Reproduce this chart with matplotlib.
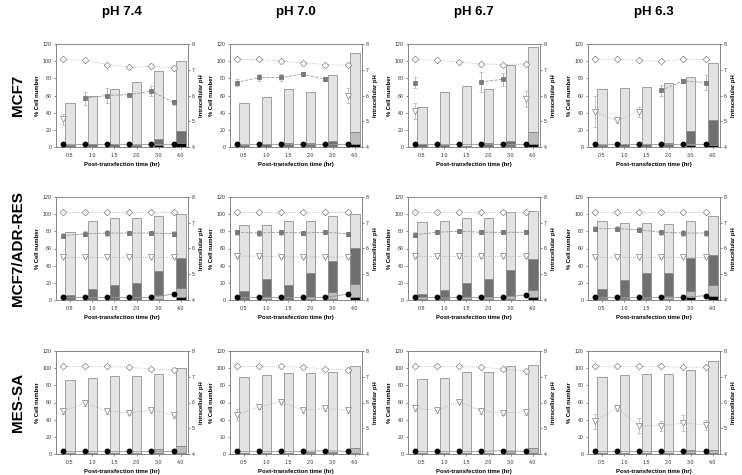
import numpy as np
import matplotlib.pyplot as plt

plt.rcParams['font.family'] = ['Liberation Sans', 'DejaVu Sans']

cells = ["MCF7", "MCF7/ADR-RES", "MES-SA"]
ph_ext = ["pH 7.4", "pH 7.0", "pH 6.7", "pH 6.3"]
times = ["0.5", "1.0", "1.5", "2.0", "3.0", "4.0"]
nan = np.nan

# % cell number: bar totals and stacked parts (rows = cell lines, cols = extracellular pH)
total = [
    [[51, 59, 68, 76, 89, 100], [51, 58, 67, 64, 84, 110], [47, 64, 71, 67, 95, 117], [68, 69, 70, 75, 81, 98]],
    [[79, 92, 95, 95, 98, 100], [87, 87, 92, 92, 98, 100], [91, 92, 95, 96, 103, 104], [92, 90, 90, 89, 92, 98]],
    [[86, 89, 91, 91, 93, 100], [90, 92, 94, 94, 95, 102], [87, 89, 95, 95, 102, 104], [90, 92, 93, 93, 98, 108]],
]
black = [
    [[0, 1, 1, 1, 2, 5], [0, 0, 1, 1, 1, 4], [0, 0, 0, 1, 1, 4], [1, 1, 1, 1, 2, 2]],
    [[1, 1, 1, 1, 1, 3], [1, 1, 1, 1, 1, 3], [1, 1, 1, 1, 1, 3], [1, 1, 1, 1, 3, 5]],
    [[1, 1, 1, 1, 1, 1], [1, 1, 1, 1, 1, 1], [1, 1, 1, 1, 1, 1], [1, 1, 1, 1, 1, 1]],
]
medium = [
    [[0, 0, 0, 0, 0, 0], [0, 0, 0, 0, 0, 14], [0, 0, 0, 0, 0, 13], [0, 0, 0, 0, 0, 0]],
    [[0, 0, 0, 0, 5, 11], [0, 2, 0, 2, 8, 16], [2, 1, 2, 2, 4, 9], [1, 1, 1, 4, 8, 12]],
    [[0, 0, 0, 0, 5, 8], [0, 0, 0, 1, 1, 6], [0, 0, 0, 0, 3, 6], [0, 0, 0, 0, 4, 4]],
]
dark = [
    [[2, 2, 3, 1, 7, 14], [2, 3, 4, 4, 6, 0], [3, 2, 1, 4, 6, 0], [1, 2, 2, 4, 17, 30]],
    [[5, 12, 16, 19, 28, 35], [10, 21, 17, 29, 36, 41], [4, 10, 17, 22, 30, 36], [11, 21, 30, 27, 38, 35]],
    [[0, 0, 0, 0, 0, 0], [0, 0, 0, 0, 0, 0], [0, 0, 0, 0, 0, 0], [0, 0, 0, 0, 0, 0]],
]

# intracellular pH markers
diamond = [
    [[7.4, 7.37, 7.2, 7.1, 7.13, 7.07], [7.4, 7.4, 7.33, 7.27, 7.2, 7.17],
     [7.4, 7.37, 7.3, 7.23, 7.2, 7.23], [7.4, 7.4, 7.37, 7.33, 7.4, 7.4]],
    [[7.43] * 6, [7.43] * 6, [7.43] * 6, [7.43] * 6],
    [[7.4, 7.4, 7.4, 7.37, 7.3, 7.27], [7.4, 7.4, 7.4, 7.37, 7.3, 7.27],
     [7.4, 7.4, 7.4, 7.37, 7.3, 7.23], [7.4, 7.4, 7.4, 7.4, 7.37, 7.37]],
]
square = [
    [[nan, 5.9, 6.0, 6.03, 6.17, 5.73], [6.5, 6.7, 6.7, 6.83, 6.63, nan],
     [6.5, nan, nan, 6.53, 6.63, nan], [nan, nan, nan, 6.2, 6.57, 6.5]],
    [[6.5, 6.57, 6.6, 6.6, 6.6, 6.57], [6.63, 6.6, 6.63, 6.6, 6.63, 6.57],
     [6.53, 6.63, 6.67, 6.63, 6.63, 6.63], [6.77, 6.77, 6.73, 6.63, 6.6, 6.6]],
    [[nan] * 6, [nan] * 6, [nan] * 6, [nan] * 6],
]
square_err = [
    [[0, 0.25, 0.3, 0.05, 0.2, 0.1], [0.15, 0.15, 0.15, 0.08, 0.08, 0],
     [0.2, 0, 0, 0.4, 0.25, 0], [0, 0, 0, 0.2, 0.08, 0.3]],
    [[0.1, 0.1, 0.1, 0.08, 0.08, 0.1], [0.1, 0.1, 0.1, 0.08, 0.08, 0.08],
     [0.1, 0.08, 0.08, 0.08, 0.08, 0.08], [0.1, 0.1, 0.1, 0.1, 0.1, 0.1]],
    [[0] * 6, [0] * 6, [0] * 6, [0] * 6],
]
triangle = [
    [[5.07, nan, nan, nan, nan, nan], [nan, nan, nan, nan, nan, 6.0],
     [5.4, nan, nan, nan, nan, 5.87], [5.37, 5.03, 5.37, nan, nan, nan]],
    [[5.67] * 6, [5.7, 5.7, 5.67, 5.67, 5.67, 5.67], [5.7] * 6, [5.67] * 6],
    [[5.67, 5.97, 5.67, 5.6, 5.7, 5.5], [5.53, 5.83, 6.03, 5.7, 5.77, 5.7],
     [5.77, 5.7, 6.03, 5.67, 5.6, 5.63], [5.27, 5.77, 5.1, 5.1, 5.2, 5.13]],
]
triangle_err = [
    [[0.2, 0, 0, 0, 0, 0], [0, 0, 0, 0, 0, 0.3], [0.3, 0, 0, 0, 0, 0.3], [0.6, 0.1, 0.2, 0, 0, 0]],
    [[0.05] * 6, [0.05] * 6, [0.05] * 6, [0.05] * 6],
    [[0.1, 0.1, 0.1, 0.1, 0.1, 0.1], [0.2, 0.1, 0.1, 0.1, 0.1, 0.1],
     [0.1, 0.1, 0.1, 0.1, 0.1, 0.1], [0.3, 0.1, 0.3, 0.2, 0.3, 0.2]],
]
circle = [
    [[4.1] * 6, [4.1] * 6, [4.1] * 6, [4.1] * 6],
    [[4.1, 4.1, 4.1, 4.1, 4.1, 4.23], [4.1, 4.1, 4.1, 4.1, 4.1, 4.23],
     [4.1, 4.1, 4.1, 4.1, 4.1, 4.2], [4.1, 4.1, 4.1, 4.1, 4.1, 4.17]],
    [[4.1] * 6, [4.1, 4.1, 4.1, 4.1, 4.13, 4.1], [4.1, 4.1, 4.1, 4.1, 4.13, 4.1], [4.1] * 6],
]

W, H = 742, 475
fig = plt.figure(figsize=(W / 100, H / 100), dpi=100)

lefts = [56, 230, 408, 588]
tops = [44, 197, 351]
pw, ph = 132, 103

x = np.arange(len(times))
xm = x - 0.33
edge = '#7f7f7f'
fs = 3.8

for r in range(3):
    for c in range(4):
        ax = fig.add_axes([lefts[c] / W, 1 - (tops[r] + ph) / H, pw / W, ph / H])
        b = np.array(black[r][c], float)
        m = np.array(medium[r][c], float)
        d = np.array(dark[r][c], float)
        t = np.array(total[r][c], float)
        light = t - b - m - d
        kw = dict(width=0.42, edgecolor=edge, linewidth=0.5, zorder=2)
        ax.bar(x, b, color='black', **kw)
        ax.bar(x, m, bottom=b, color='#bdbdbd', **kw)
        ax.bar(x, d, bottom=b + m, color='#707070', **kw)
        ax.bar(x, light, bottom=b + m + d, color='#e3e3e3', **kw)
        ax.set_ylim(0, 120)
        ax.set_yticks(range(0, 121, 20))
        ax.set_xlim(-0.63, 5.32)
        ax.set_xticks(x)
        ax.set_xticklabels(times)
        ax.tick_params(labelsize=fs, length=1.5, width=0.4, colors='#333333', pad=1.5)
        ax.tick_params(axis='x', pad=3)
        ax.set_ylabel("% Cell number", fontsize=4.2, fontweight='bold', labelpad=2)
        ax.set_xlabel("Post-transfection time (hr)", fontsize=4.3, fontweight='bold', labelpad=3)
        for s in ax.spines.values():
            s.set_color(edge)
            s.set_linewidth(0.5)

        ax2 = ax.twinx()
        ax2.set_ylim(4, 8)
        ax2.set_yticks([4, 5, 6, 7, 8])
        ax2.tick_params(labelsize=fs, length=1.5, width=0.4, colors='#333333', pad=1.5)
        ax2.set_ylabel("Intracellular pH", fontsize=4.2, fontweight='bold', labelpad=3)
        for s in ax2.spines.values():
            s.set_color(edge)
            s.set_linewidth(0.5)

        ax2.plot(xm, circle[r][c], '-', color='#9a9a9a', lw=0.6, marker='o', ms=3.2,
                 mfc='black', mec='black', zorder=5)
        ax2.plot(xm, diamond[r][c], ':', color='#b0b0b0', lw=0.6, marker='D', ms=3.4,
                 mfc='white', mec='#808080', mew=0.5, zorder=5)
        ax2.errorbar(xm, square[r][c], yerr=square_err[r][c], fmt='s--', color='#9a9a9a',
                     lw=0.6, ms=3.3, mfc='#7a7a7a', mec='#5a5a5a', mew=0.4,
                     ecolor='#a0a0a0', elinewidth=0.5, capsize=1.5, capthick=0.5, zorder=5)
        ax2.errorbar(xm, triangle[r][c], yerr=triangle_err[r][c], fmt='v:', color='#a8a8a8',
                     lw=0.6, ms=3.7, mfc='white', mec='#808080', mew=0.5,
                     ecolor='#b0b0b0', elinewidth=0.5, capsize=1.5, capthick=0.5, zorder=5)

for c in range(4):
    fig.text((lefts[c] + pw / 2) / W, 1 - 12 / H, ph_ext[c], ha='center', va='center',
             fontsize=9.5, fontweight='bold')
for r in range(3):
    fig.text(18 / W, 1 - (tops[r] + ph / 2) / H, cells[r], ha='center', va='center',
             rotation=90, fontsize=11, fontweight='bold')

fig.savefig("out.png", dpi=100)
